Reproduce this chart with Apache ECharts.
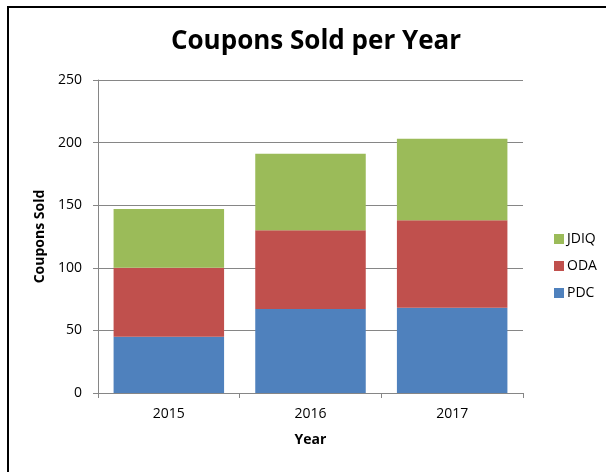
<!DOCTYPE html>
<html>
<head>
<meta charset="utf-8">
<script src="https://cdn.jsdelivr.net/npm/echarts@6/dist/echarts.min.js"></script>
<style>
  html, body { margin: 0; padding: 0; background: #fff; }
  #chart { width: 606px; height: 472px; }
</style>
</head>
<body>
<div id="chart"></div>
<script>
var years = ["2015", "2016", "2017"];
var pdc = [45, 67, 68];
var oda = [55, 63, 70];
var jdiq = [47, 61, 65];
var yTicks = { min: 0, max: 250, interval: 50 };

var font = "Open Sans";
var myChart = echarts.init(document.getElementById("chart"));

var option = {
  backgroundColor: "#fff",
  textStyle: { fontFamily: font },
  animation: false,
  // outer frame of the chart
  graphic: [{
    type: "rect",
    shape: { x: 8, y: 7, width: 640, height: 500 },
    style: { fill: "none", stroke: "#000", lineWidth: 2 }
  }],
  title: {
    text: "Coupons Sold per Year",
    left: 311,
    top: 24,
    textAlign: "center",
    textStyle: { fontFamily: font, fontSize: 26, fontWeight: "bold", color: "#000" }
  },
  legend: {
    orient: "vertical",
    left: 549,
    top: 227,
    itemWidth: 10,
    itemHeight: 10,
    itemGap: 13,
    icon: "rect",
    data: ["JDIQ", "ODA", "PDC"],
    textStyle: { fontFamily: font, fontSize: 14, color: "#000", padding: [0, 0, 0, -2] }
  },
  grid: { left: 98, right: 83, top: 80, bottom: 79 },
  xAxis: {
    type: "category",
    data: years,
    name: "Year",
    nameLocation: "middle",
    nameGap: 40,
    nameTextStyle: { fontFamily: font, fontSize: 14, fontWeight: "bold", color: "#000" },
    axisLine: { lineStyle: { color: "#868686", width: 1 } },
    axisTick: { show: true, length: 5, alignWithLabel: false, lineStyle: { color: "#868686" } },
    axisLabel: { margin: 14, fontFamily: font, fontSize: 14, color: "#000" }
  },
  yAxis: {
    type: "value",
    min: yTicks.min,
    max: yTicks.max,
    interval: yTicks.interval,
    name: "Coupons Sold",
    nameLocation: "middle",
    nameGap: 49,
    nameTextStyle: { fontFamily: font, fontSize: 14, fontWeight: "bold", color: "#000" },
    axisLine: { show: true, lineStyle: { color: "#868686", width: 1 } },
    axisTick: { show: true, length: 5, lineStyle: { color: "#868686" } },
    axisLabel: { margin: 16, fontFamily: font, fontSize: 14, color: "#000" },
    splitLine: { lineStyle: { color: "#868686", width: 1 } }
  },
  series: [
    { name: "PDC", type: "bar", stack: "all", data: pdc, barCategoryGap: "22%",
      itemStyle: { color: "#4F81BD" } },
    { name: "ODA", type: "bar", stack: "all", data: oda,
      itemStyle: { color: "#C0504D" } },
    { name: "JDIQ", type: "bar", stack: "all", data: jdiq,
      itemStyle: { color: "#9BBB59" } }
  ]
};

myChart.setOption(option);
window.addEventListener("resize", function () {
  myChart.resize();
});
</script>
</body>
</html>
